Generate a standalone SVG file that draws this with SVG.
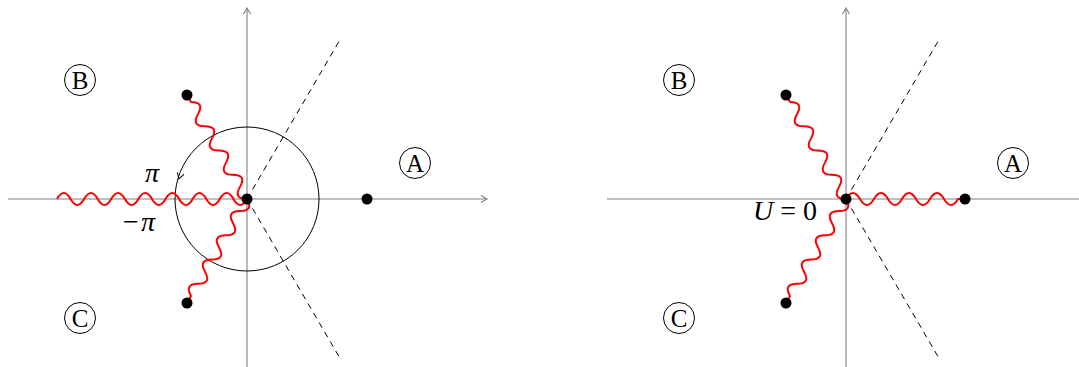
<svg xmlns="http://www.w3.org/2000/svg" width="1079" height="367" viewBox="0 0 1079 367">
<style>
.axis{stroke:#808080;stroke-width:1.1;fill:none}
.dash{stroke:#000;stroke-width:1;stroke-dasharray:6 5;fill:none}
.wig{stroke:#ff0000;stroke-width:2;fill:none;stroke-linejoin:round}
.dot{fill:#000}
.circ{fill:none;stroke:#000;stroke-width:1}
.lt{font-family:"Liberation Serif",serif;font-size:25px;text-anchor:middle;fill:#000}
.m{font-family:"Liberation Serif",serif;font-style:italic;font-size:28px;text-anchor:middle;fill:#000}
.mr{font-family:"Liberation Serif",serif;font-size:28px;text-anchor:middle;fill:#000}
</style>
<defs>
<marker id="ah" viewBox="-8 -5 10 10" refX="0" refY="0" markerWidth="10" markerHeight="10" markerUnits="userSpaceOnUse" orient="auto">
<path d="M-6 -3.5 Q-1.5 -0.8 0 0 Q-1.5 0.8 -6 3.5" fill="none" stroke="#808080" stroke-width="1.1"/>
</marker>
<path id="dwig" d="M0 0 q7 -12 14 0 t14 0 t14 0 t14 0 t14 0 t14 0 t14 0 t14 0 L120 0"/>
</defs>
<g id="connectors">
<line class="axis" x1="8" y1="199" x2="487" y2="199" marker-end="url(#ah)"/>
<line class="axis" x1="247" y1="367" x2="247" y2="8" marker-end="url(#ah)"/>
<line class="dash" x1="247" y1="199" x2="341" y2="38"/>
<line class="dash" x1="247" y1="199" x2="341" y2="360"/>
<circle class="circ" cx="247" cy="199" r="72"/>
<path d="M-6 -3.5 Q-1.5 -0.8 0 0 Q-1.5 0.8 -6 3.5" fill="none" stroke="#000" stroke-width="1" transform="translate(179 179) rotate(106)"/>
<path class="wig" d="M57 199 q6.786 -12 13.571 0 t13.571 0 t13.571 0 t13.571 0 t13.571 0 t13.571 0 t13.571 0 t13.571 0 t13.571 0 t13.571 0 t13.571 0 t13.571 0 t13.571 0 t13.571 0"/>
<use href="#dwig" class="wig" transform="translate(247 199) rotate(-120)"/>
<use href="#dwig" class="wig" transform="translate(247 199) rotate(120)"/>
<line class="axis" x1="607" y1="199" x2="1086" y2="199" marker-end="url(#ah)"/>
<line class="axis" x1="846" y1="367" x2="846" y2="8" marker-end="url(#ah)"/>
<line class="dash" x1="846" y1="199" x2="940" y2="38"/>
<line class="dash" x1="846" y1="199" x2="940" y2="360"/>
<use href="#dwig" class="wig" transform="translate(846 199)"/>
<use href="#dwig" class="wig" transform="translate(846 199) rotate(-120)"/>
<use href="#dwig" class="wig" transform="translate(846 199) rotate(120)"/>
</g>
<g id="left-origin"><circle class="dot" cx="247" cy="199" r="5.5"/></g>
<g id="left-dot-A"><circle class="dot" cx="367" cy="199" r="5.5"/></g>
<g id="left-dot-B"><circle class="dot" cx="187" cy="95" r="5.5"/></g>
<g id="left-dot-C"><circle class="dot" cx="187" cy="303" r="5.5"/></g>
<g id="left-label-A"><circle class="circ" cx="415" cy="163" r="15.5"/><text class="lt" x="415" y="171.5">A</text></g>
<g id="left-label-B"><circle class="circ" cx="80" cy="80" r="15.5"/><text class="lt" x="80" y="88.5">B</text></g>
<g id="left-label-C"><circle class="circ" cx="80" cy="318" r="15.5"/><text class="lt" x="80" y="326.5">C</text></g>
<g id="label-pi"><text class="m" x="152" y="182">π</text></g>
<g id="label-minus-pi"><text class="mr" x="139" y="231">−<tspan dx="2" font-style="italic">π</tspan></text></g>
<g id="right-origin"><circle class="dot" cx="846" cy="199" r="5.5"/></g>
<g id="right-dot-A"><circle class="dot" cx="965" cy="199" r="5.5"/></g>
<g id="right-dot-B"><circle class="dot" cx="786" cy="95" r="5.5"/></g>
<g id="right-dot-C"><circle class="dot" cx="786" cy="303" r="5.5"/></g>
<g id="right-label-A"><circle class="circ" cx="1013" cy="163" r="15.5"/><text class="lt" x="1013" y="171.5">A</text></g>
<g id="right-label-B"><circle class="circ" cx="679" cy="80" r="15.5"/><text class="lt" x="679" y="88.5">B</text></g>
<g id="right-label-C"><circle class="circ" cx="679" cy="318" r="15.5"/><text class="lt" x="679" y="326.5">C</text></g>
<g id="label-U0"><text class="mr" x="785" y="220"><tspan font-style="italic">U</tspan> = 0</text></g>
</svg>
